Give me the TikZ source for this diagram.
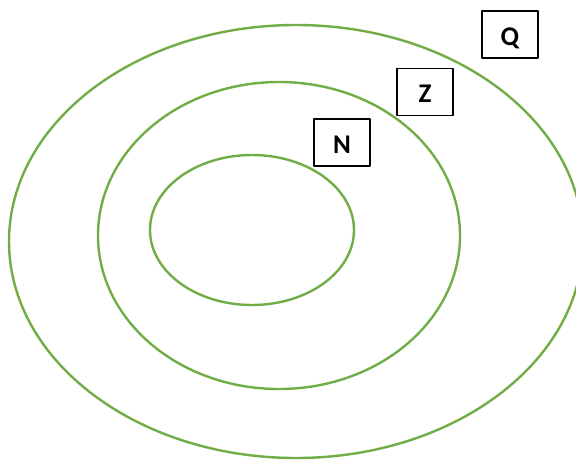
\documentclass[tikz,border=0pt]{standalone}
\usepackage{fontspec}
\setmainfont{Carlito}
\definecolor{setgreen}{RGB}{112,173,71}
\begin{document}
\begin{tikzpicture}[x=1pt,y=-1pt,line cap=round,line join=round,
  setline/.style={draw=setgreen,line width=2.4pt},
  labelbox/.style={draw=black,line width=1.8pt,minimum width=56pt,minimum height=47pt,
    inner sep=0pt,text depth=0pt,font=\fontsize{27}{30}\selectfont\bfseries}]
  % Nested sets N, Z and Q as ellipses, each name in a box at the upper right.
  \useasboundingbox (0,0) rectangle (576,459);
  \draw[setline] (296,241.5) ellipse [x radius=287,y radius=216.5];
  \draw[setline] (279,235.5) ellipse [x radius=181,y radius=153.5];
  \draw[setline] (252,230) ellipse [x radius=102,y radius=75];

  \node[labelbox] (Q) at (510,34.5) {\raisebox{-4pt}{Q}};
  \node[labelbox] (Z) at (425,92) {\raisebox{-4pt}{Z}};
  \node[labelbox] (N) at (342,142.5) {\raisebox{-4pt}{N}};
\end{tikzpicture}
\end{document}
